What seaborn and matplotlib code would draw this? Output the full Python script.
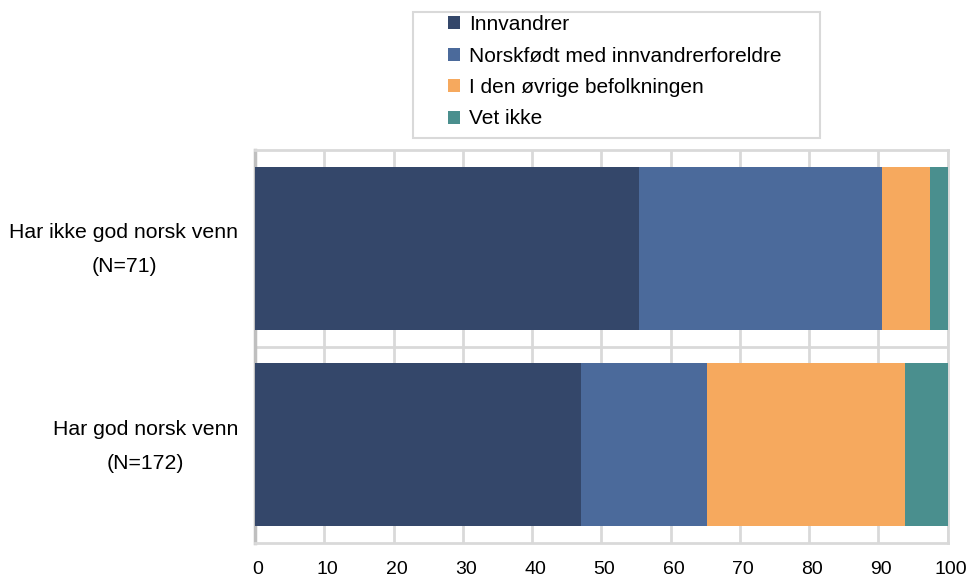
import numpy as np
import pandas as pd
import matplotlib
matplotlib.use("Agg")
import matplotlib.pyplot as plt
import matplotlib.transforms as mtransforms
import seaborn as sns
from matplotlib.patches import Patch, Rectangle

# Data (percent)
categories = ["Har ikke god norsk venn\n(N=71)", "Har god norsk venn\n(N=172)"]
series = ["Innvandrer", "Norskfødt med innvandrerforeldre",
          "I den øvrige befolkningen", "Vet ikke"]
innvandrer = [55.5, 47.0]
norskfodt = [35.0, 18.3]
ovrige = [6.9, 28.6]
vet_ikke = [2.6, 6.1]
colors = ["#34476A", "#4B6A9B", "#F6A95E", "#4A8F8E"]
xticks = [0, 10, 20, 30, 40, 50, 60, 70, 80, 90, 100]

sns.set_theme(style="white")
plt.rcParams["font.family"] = ["Liberation Sans", "DejaVu Sans"]
plt.rcParams["text.color"] = "black"

df = pd.DataFrame({"kategori": categories,
                   series[0]: innvandrer, series[1]: norskfodt,
                   series[2]: ovrige, series[3]: vet_ikke})
cum = df[series].cumsum(axis=1)

fig = plt.figure(figsize=(9.7, 5.82), dpi=100)
ax = fig.add_axes([0.263, 0.067, 0.714, 0.675])

# draw stacked bars from the back (largest cumulative) to the front
for s, c in zip(series[::-1], colors[::-1]):
    sns.barplot(x=cum[s], y=df["kategori"], color=c, orient="h",
                width=0.83, saturation=1, linewidth=0, ax=ax, zorder=3)

ax.set_xlim(0, 100)
ax.set_xticks(xticks)
ax.set_xticklabels([str(t) for t in xticks], fontsize=14)
ax.tick_params(axis="y", labelsize=15.3, length=0, pad=12, labelcolor="black")
ax.tick_params(axis="x", length=0, pad=13, labelcolor="black")

# small nudges so labels sit where the source places them
up = mtransforms.ScaledTranslation(0, 8 / 100, fig.dpi_scale_trans)
right = mtransforms.ScaledTranslation(3 / 100, 0, fig.dpi_scale_trans)
for lab in ax.get_yticklabels():
    lab.set_multialignment("center")
    lab.set_linespacing(2.0)
    lab.set_transform(lab.get_transform() + up)
for lab in ax.get_xticklabels():
    lab.set_transform(lab.get_transform() + right)
ax.set_xlabel("")
ax.set_ylabel("")

ax.grid(axis="x", color="#D9D9D9", linewidth=2, zorder=0)
ax.axhline(0.5, color="#D9D9D9", linewidth=2, zorder=1)
for side in ["top", "right", "bottom"]:
    ax.spines[side].set_color("#D9D9D9")
    ax.spines[side].set_linewidth(2)
ax.spines["left"].set_color("#BFBFBF")
ax.spines["left"].set_linewidth(2.5)

# legend box (wider than its content, as in the source)
fig.patches.append(Rectangle((413 / 970, 1 - 138 / 582), 407 / 970, 126 / 582,
                             transform=fig.transFigure, facecolor="white",
                             edgecolor="#D9D9D9", linewidth=1.5))
handles = [Patch(facecolor=c, edgecolor="none") for c in colors]
leg = fig.legend(handles, series, loc="upper left",
                 bbox_to_anchor=(448 / 970, 1 - 15 / 582), fontsize=15,
                 frameon=False, handlelength=0.6, handleheight=0.6,
                 handletextpad=0.4, labelspacing=0.6,
                 borderpad=0, borderaxespad=0)

fig.savefig("out.png", dpi=100)
